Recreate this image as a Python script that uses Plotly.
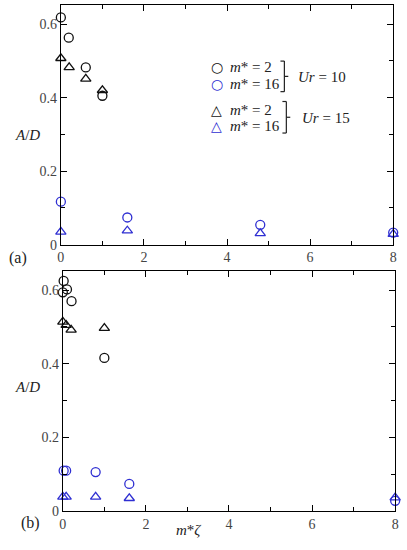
import plotly.graph_objects as go

W, H = 407, 550
# ---------------- data: panel (a) ----------------
a_m2_ur10_x = [0.0, 0.19, 0.6, 1.0]
a_m2_ur10_y = [0.618, 0.563, 0.482, 0.405]
a_m16_ur10_x = [0.0, 1.6, 4.8, 8.0]
a_m16_ur10_y = [0.117, 0.074, 0.054, 0.033]
a_m2_ur15_x = [0.0, 0.2, 0.6, 1.0]
a_m2_ur15_y = [0.507, 0.482, 0.451, 0.420]
a_m16_ur15_x = [0.0, 1.6, 4.8, 8.0]
a_m16_ur15_y = [0.035, 0.038, 0.031, 0.029]

# ---------------- data: panel (b) ----------------
b_m2_ur10_x = [0.02, 0.1, 0.0, 0.21, 1.0]
b_m2_ur10_y = [0.625, 0.602, 0.594, 0.570, 0.416]
b_m16_ur10_x = [0.02, 0.08, 0.79, 1.6, 8.0]
b_m16_ur10_y = [0.110, 0.110, 0.106, 0.074, 0.028]
b_m2_ur15_x = [0.0, 0.08, 0.2, 1.0]
b_m2_ur15_y = [0.514, 0.505, 0.492, 0.497]
b_m16_ur15_x = [0.0, 0.08, 0.79, 1.6, 8.0]
b_m16_ur15_y = [0.039, 0.039, 0.039, 0.035, 0.037]

x_ticks = [0, 2, 4, 6, 8]
y_ticks = [0, 0.2, 0.4, 0.6]
y_tick_text = ["0", "0.2", "0.4", "0.6"]

legend_labels = ["<i>m</i>* = 2", "<i>m</i>* = 16", "<i>m</i>* = 2", "<i>m</i>* = 16"]
legend_groups = ["<i>Ur</i> = 10", "<i>Ur</i> = 15"]

BLACK = "#111111"
BLUE = "#2f2fd2"
FONT = "Liberation Serif, DejaVu Serif, serif"
MS = 9

def px_x(p):
    return p / W

def px_y(p):
    return 1 - p / H

fig = go.Figure()

def add(x, y, color, symbol, name, xa, ya):
    fig.add_trace(go.Scatter(
        x=x, y=y, mode="markers", name=name, xaxis=xa, yaxis=ya,
        showlegend=False, cliponaxis=False,
        marker=dict(symbol=symbol, size=MS, color=color,
                    line=dict(color=color, width=1.3)),
    ))

add(a_m2_ur10_x, a_m2_ur10_y, BLACK, "circle-open", legend_labels[0], "x", "y")
add(a_m16_ur10_x, a_m16_ur10_y, BLUE, "circle-open", legend_labels[1], "x", "y")
add(a_m2_ur15_x, a_m2_ur15_y, BLACK, "triangle-up-open", legend_labels[2], "x", "y")
add(a_m16_ur15_x, a_m16_ur15_y, BLUE, "triangle-up-open", legend_labels[3], "x", "y")

add(b_m2_ur10_x, b_m2_ur10_y, BLACK, "circle-open", legend_labels[0], "x2", "y2")
add(b_m16_ur10_x, b_m16_ur10_y, BLUE, "circle-open", legend_labels[1], "x2", "y2")
add(b_m2_ur15_x, b_m2_ur15_y, BLACK, "triangle-up-open", legend_labels[2], "x2", "y2")
add(b_m16_ur15_x, b_m16_ur15_y, BLUE, "triangle-up-open", legend_labels[3], "x2", "y2")

def xaxis(domain, anchor):
    return dict(domain=domain, anchor=anchor, range=[0, 8], tickvals=x_ticks,
                ticks="inside", ticklen=6, tickwidth=1, tickcolor="black",
                showline=True, linecolor="black", linewidth=1, mirror="ticks",
                showgrid=False, zeroline=False,
                tickfont=dict(family=FONT, size=14, color="#444"),
                minor=dict(dtick=1, tick0=0, ticks="inside", ticklen=4,
                           tickcolor="black", showgrid=False))

def yaxis(domain, anchor):
    return dict(domain=domain, anchor=anchor, range=[0, 0.652], tickvals=y_ticks,
                ticktext=y_tick_text,
                ticks="inside", ticklen=6, tickwidth=1, tickcolor="black",
                showline=True, linecolor="black", linewidth=1, mirror="ticks",
                showgrid=False, zeroline=False,
                tickfont=dict(family=FONT, size=14, color="#444"),
                minor=dict(dtick=0.1, tick0=0, ticks="inside", ticklen=4,
                           tickcolor="black", showgrid=False))

fig.update_layout(
    width=W, height=H,
    margin=dict(l=0, r=0, t=0, b=0),
    plot_bgcolor="white", paper_bgcolor="white",
    font=dict(family=FONT, size=14, color="#222"),
    xaxis=xaxis([px_x(58), px_x(397)], "y"),
    yaxis=yaxis([px_y(248.3), px_y(5)], "x"),
    xaxis2=xaxis([px_x(60), px_x(399)], "y2"),
    yaxis2=yaxis([px_y(518.7), px_y(275)], "x2"),
    showlegend=False,
)

ann = []
def text(x, y, t, size=15, xanchor="center", color="#222", family=FONT, pad=1):
    ann.append(dict(x=px_x(x), y=px_y(y), xref="paper", yref="paper", text=t,
                    showarrow=False, xanchor=xanchor, yanchor="middle",
                    borderpad=pad,
                    font=dict(family=family, size=size, color=color)))

text(24, 137, "<i>A</i>/<i>D</i>")
text(24, 393, "<i>A</i>/<i>D</i>")
text(188, 538, "<i>m</i>*<i>ζ</i>")
text(14, 262, "(a)", 16)
text(27, 531, "(b)", 16)

# legend block
leg_y = [67.7, 85.0, 111.7, 128.3]
leg_sym = ["○", "○", "△", "△"]
leg_col = [BLACK, BLUE, BLACK, BLUE]
for yy, s, c, lab in zip(leg_y, leg_sym, leg_col, legend_labels):
    text(217, yy, s, 14, color=c, family="DejaVu Sans", pad=0)
    text(230, yy, lab, 15, xanchor="left", pad=0)
text(324, 78, legend_groups[0], 15)
text(328, 120, legend_groups[1], 15)
fig.update_layout(annotations=ann)

shapes = []
def line(x0, y0, x1, y1):
    shapes.append(dict(type="line", xref="paper", yref="paper",
                       x0=px_x(x0), y0=px_y(y0), x1=px_x(x1), y1=px_y(y1),
                       line=dict(color="#222", width=1.2)))

def bracket(x, ytop, ybot):
    ymid = (ytop + ybot) / 2
    line(x, ytop, x, ybot)
    line(x - 4, ytop, x, ytop)
    line(x - 4, ybot, x, ybot)
    line(x, ymid, x + 4, ymid)

bracket(286, 62, 93)
bracket(288, 103, 135)
fig.update_layout(shapes=shapes)

fig.write_html("out.html", config={"displayModeBar": False},
               post_script="document.body.style.margin='0';")
